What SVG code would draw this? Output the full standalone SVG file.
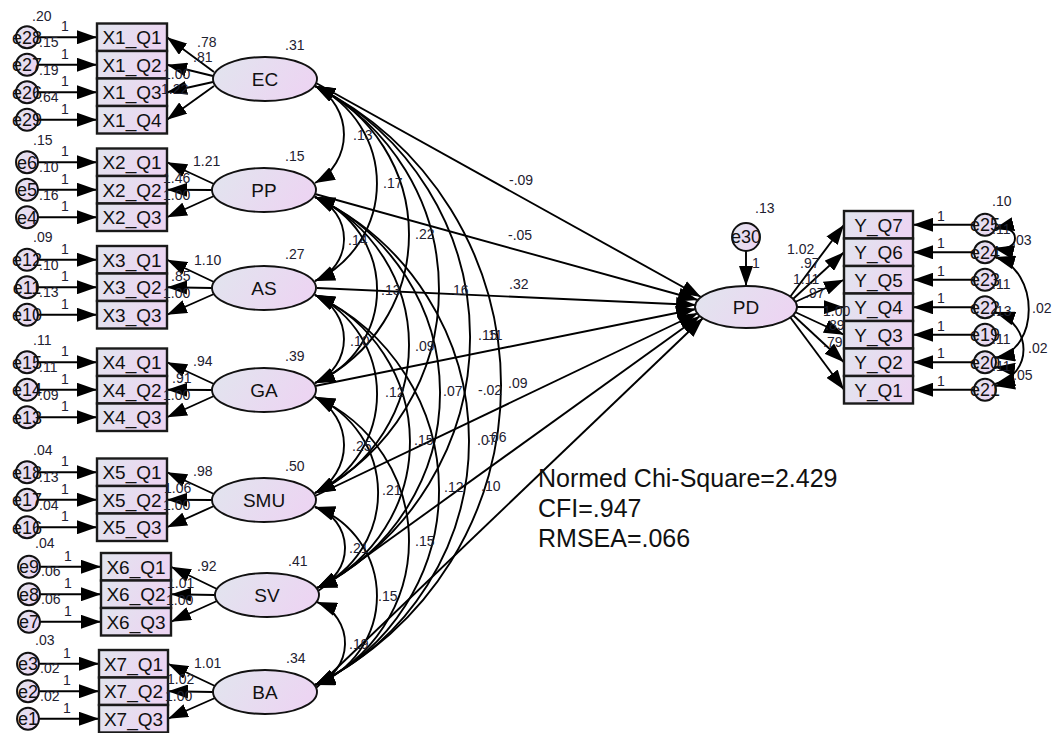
<svg xmlns="http://www.w3.org/2000/svg" width="1057" height="733" viewBox="0 0 1057 733">
  <defs>
    <linearGradient id="fillg" x1="0" y1="0" x2="1" y2="0.3">
      <stop offset="0" stop-color="#e1e5ee"/>
      <stop offset="1" stop-color="#ecd5f2"/>
    </linearGradient>
    <marker id="ah" markerUnits="userSpaceOnUse" viewBox="0 0 20 14" markerWidth="20" markerHeight="14" refX="20" refY="7" orient="auto-start-reverse">
      <path d="M0,0 L20,7 L0,14 z" fill="#000"/>
    </marker>
    <style>
      .box { fill: url(#fillg); stroke: #1a1a1a; stroke-width: 2.4; }
      .lat { fill: url(#fillg); stroke: #111; stroke-width: 1.9; }
      .err { fill: url(#fillg); stroke: #111; stroke-width: 1.9; }
      .ln { stroke: #000; stroke-width: 1.9; fill: none; marker-end: url(#ah); }
      .cv { stroke: #000; stroke-width: 1.9; fill: none; marker-start: url(#ah); marker-end: url(#ah); }
      text { font-family: "Liberation Sans", Arial, sans-serif; }
      .tb { font-size: 19px; text-anchor: middle; fill: #111; }
      .tl { font-size: 19px; text-anchor: middle; fill: #111; }
      .te { font-size: 18px; text-anchor: middle; fill: #111; }
      .n { font-size: 14px; fill: #1e2130; }
      .fit { font-size: 25px; fill: #111; }
    </style>
  </defs>
  <rect width="1057" height="733" fill="#fff"/>

  <!-- connectors -->
  <g id="connectors">
    <!-- error terms into the X indicators -->
    <path class="ln" d="M38 37.25 L97 37.25"/>
    <path class="ln" d="M38 64.75 L97 64.75"/>
    <path class="ln" d="M38 92.25 L97 92.25"/>
    <path class="ln" d="M38 119.75 L97 119.75"/>
    <path class="ln" d="M38 162.25 L97 162.25"/>
    <path class="ln" d="M38 189.75 L97 189.75"/>
    <path class="ln" d="M38 217.25 L97 217.25"/>
    <path class="ln" d="M38 259.75 L97 259.75"/>
    <path class="ln" d="M38 287.25 L97 287.25"/>
    <path class="ln" d="M38 314.75 L97 314.75"/>
    <path class="ln" d="M38 362.25 L97 362.25"/>
    <path class="ln" d="M38 389.75 L97 389.75"/>
    <path class="ln" d="M38 417.25 L97 417.25"/>
    <path class="ln" d="M38 472.25 L97 472.25"/>
    <path class="ln" d="M38 499.75 L97 499.75"/>
    <path class="ln" d="M38 527.25 L97 527.25"/>
    <path class="ln" d="M40 566.75 L101 566.75"/>
    <path class="ln" d="M40 594.25 L101 594.25"/>
    <path class="ln" d="M40 621.75 L101 621.75"/>
    <path class="ln" d="M39 663.75 L99 663.75"/>
    <path class="ln" d="M39 691.25 L99 691.25"/>
    <path class="ln" d="M39 718.75 L99 718.75"/>

    <!-- factor loadings -->
    <path class="ln" d="M214 72 L167 37.25"/>
    <path class="ln" d="M213 76 L167 64.75"/>
    <path class="ln" d="M213 82 L167 92.25"/>
    <path class="ln" d="M214 86 L167 119.75"/>
    <path class="ln" d="M214 184 L167 162.25"/>
    <path class="ln" d="M212 190 L167 189.75"/>
    <path class="ln" d="M214 196 L167 217.25"/>
    <path class="ln" d="M214 282 L167 259.75"/>
    <path class="ln" d="M212 288 L167 287.25"/>
    <path class="ln" d="M214 294 L167 314.75"/>
    <path class="ln" d="M214 384 L167 362.25"/>
    <path class="ln" d="M212 390 L167 389.75"/>
    <path class="ln" d="M214 396 L167 417.25"/>
    <path class="ln" d="M214 494 L167 472.25"/>
    <path class="ln" d="M212 500 L167 499.75"/>
    <path class="ln" d="M214 506 L167 527.25"/>
    <path class="ln" d="M217 589 L171 566.75"/>
    <path class="ln" d="M215 595 L171 594.25"/>
    <path class="ln" d="M217 601 L171 621.75"/>
    <path class="ln" d="M215 686 L168 663.75"/>
    <path class="ln" d="M213 692 L168 691.25"/>
    <path class="ln" d="M215 698 L168 718.75"/>

    <!-- covariances between the exogenous factors -->
    <path class="cv" d="M315 86 A55.1 55.1 0 0 1 315 183"/>
    <path class="cv" d="M315 197 A44.9 44.9 0 0 1 315 281"/>
    <path class="cv" d="M315 295 A47.9 47.9 0 0 1 315 383"/>
    <path class="cv" d="M315 397 A54.2 54.2 0 0 1 315 493"/>
    <path class="cv" d="M315 507 A42.8 42.8 0 0 1 317 588"/>
    <path class="cv" d="M317 602 A44.2 44.2 0 0 1 315 685"/>
    <path class="cv" d="M315 86 A107.7 107.7 0 0 1 315 281"/>
    <path class="cv" d="M315 197 A100.7 100.7 0 0 1 315 383"/>
    <path class="cv" d="M315 295 A110 110 0 0 1 315 493"/>
    <path class="cv" d="M315 397 A104.5 104.5 0 0 1 317 588"/>
    <path class="cv" d="M315 507 A94.9 94.9 0 0 1 315 685"/>
    <path class="cv" d="M315 86 A164.3 164.3 0 0 1 315 383"/>
    <path class="cv" d="M315 197 A163.5 163.5 0 0 1 315 493"/>
    <path class="cv" d="M315 295 A161.2 161.2 0 0 1 317 588"/>
    <path class="cv" d="M315 397 A157.3 157.3 0 0 1 315 685"/>
    <path class="cv" d="M315 86 A229 229 0 0 1 315 493"/>
    <path class="cv" d="M315 197 A216.1 216.1 0 0 1 317 588"/>
    <path class="cv" d="M315 295 A215.3 215.3 0 0 1 315 685"/>
    <path class="cv" d="M315 86 A281.5 281.5 0 0 1 317 588"/>
    <path class="cv" d="M315 197 A270.3 270.3 0 0 1 315 685"/>
    <path class="cv" d="M315 86 A334.1 334.1 0 0 1 315 685"/>

    <!-- structural paths into PD -->
    <path class="ln" d="M316 83 L701 297"/>
    <path class="ln" d="M315 194 L698 300"/>
    <path class="ln" d="M317 288 L696 305"/>
    <path class="ln" d="M315 386 L696 309"/>
    <path class="ln" d="M315 496 L698 313"/>
    <path class="ln" d="M318 591 L700 316"/>
    <path class="ln" d="M316 688 L703 318"/>

    <!-- disturbance and PD loadings -->
    <path class="ln" d="M746 251 L746 286"/>
    <path class="ln" d="M790 297 L844 224.75"/>
    <path class="ln" d="M793 299 L844 252.25"/>
    <path class="ln" d="M795 302 L844 279.75"/>
    <path class="ln" d="M797 307 L844 307.25"/>
    <path class="ln" d="M795 312 L844 334.75"/>
    <path class="ln" d="M793 315 L844 362.25"/>
    <path class="ln" d="M790 317 L844 389.75"/>

    <!-- error terms into the Y indicators -->
    <path class="ln" d="M974 224.75 L913 224.75"/>
    <path class="ln" d="M974 252.25 L913 252.25"/>
    <path class="ln" d="M974 279.75 L913 279.75"/>
    <path class="ln" d="M974 307.25 L913 307.25"/>
    <path class="ln" d="M974 334.75 L913 334.75"/>
    <path class="ln" d="M974 362.25 L913 362.25"/>
    <path class="ln" d="M974 389.75 L913 389.75"/>

    <!-- error covariances on the Y side -->
    <path class="cv" d="M994 229 C1022 222, 1022 254, 994 248"/>
    <path class="cv" d="M995 257 C1040 270, 1040 350, 995 358"/>
    <path class="cv" d="M995 312 C1033 325, 1033 375, 995 384"/>
    <path class="cv" d="M995 367 C1018 370, 1018 382, 995 386"/>
  </g>

  <!-- EC block -->
  <g id="EC"><ellipse class="lat" cx="265" cy="79" rx="52" ry="22"/><text class="tl" x="265" y="86">EC</text></g>
  <g id="X1_Q1"><rect class="box" x="97" y="23.5" width="70" height="27.5"/><text class="tb" x="132" y="44">X1_Q1</text></g>
  <g id="X1_Q2"><rect class="box" x="97" y="51" width="70" height="27.5"/><text class="tb" x="132" y="71.5">X1_Q2</text></g>
  <g id="X1_Q3"><rect class="box" x="97" y="78.5" width="70" height="27.5"/><text class="tb" x="132" y="99">X1_Q3</text></g>
  <g id="X1_Q4"><rect class="box" x="97" y="106" width="70" height="27.5"/><text class="tb" x="132" y="126.5">X1_Q4</text></g>
  <g id="e28"><circle class="err" cx="27" cy="37.25" r="11"/><text class="te" x="27" y="43.5">e28</text></g>
  <g id="e27"><circle class="err" cx="27" cy="64.75" r="11"/><text class="te" x="27" y="71">e27</text></g>
  <g id="e26"><circle class="err" cx="27" cy="92.25" r="11"/><text class="te" x="27" y="98.5">e26</text></g>
  <g id="e29"><circle class="err" cx="27" cy="119.75" r="11"/><text class="te" x="27" y="126">e29</text></g>

  <!-- PP block -->
  <g id="PP"><ellipse class="lat" cx="264" cy="190" rx="52" ry="22"/><text class="tl" x="264" y="197">PP</text></g>
  <g id="X2_Q1"><rect class="box" x="97" y="148.5" width="70" height="27.5"/><text class="tb" x="132" y="169">X2_Q1</text></g>
  <g id="X2_Q2"><rect class="box" x="97" y="176" width="70" height="27.5"/><text class="tb" x="132" y="196.5">X2_Q2</text></g>
  <g id="X2_Q3"><rect class="box" x="97" y="203.5" width="70" height="27.5"/><text class="tb" x="132" y="224">X2_Q3</text></g>
  <g id="e6"><circle class="err" cx="27" cy="162.25" r="11"/><text class="te" x="27" y="168.5">e6</text></g>
  <g id="e5"><circle class="err" cx="27" cy="189.75" r="11"/><text class="te" x="27" y="196">e5</text></g>
  <g id="e4"><circle class="err" cx="27" cy="217.25" r="11"/><text class="te" x="27" y="223.5">e4</text></g>

  <!-- AS block -->
  <g id="AS"><ellipse class="lat" cx="264" cy="288" rx="52" ry="22"/><text class="tl" x="264" y="295">AS</text></g>
  <g id="X3_Q1"><rect class="box" x="97" y="246" width="70" height="27.5"/><text class="tb" x="132" y="266.5">X3_Q1</text></g>
  <g id="X3_Q2"><rect class="box" x="97" y="273.5" width="70" height="27.5"/><text class="tb" x="132" y="294">X3_Q2</text></g>
  <g id="X3_Q3"><rect class="box" x="97" y="301" width="70" height="27.5"/><text class="tb" x="132" y="321.5">X3_Q3</text></g>
  <g id="e12"><circle class="err" cx="27" cy="259.75" r="11"/><text class="te" x="27" y="266">e12</text></g>
  <g id="e11"><circle class="err" cx="27" cy="287.25" r="11"/><text class="te" x="27" y="293.5">e11</text></g>
  <g id="e10"><circle class="err" cx="27" cy="314.75" r="11"/><text class="te" x="27" y="321">e10</text></g>

  <!-- GA block -->
  <g id="GA"><ellipse class="lat" cx="264" cy="390" rx="52" ry="22"/><text class="tl" x="264" y="397">GA</text></g>
  <g id="X4_Q1"><rect class="box" x="97" y="348.5" width="70" height="27.5"/><text class="tb" x="132" y="369">X4_Q1</text></g>
  <g id="X4_Q2"><rect class="box" x="97" y="376" width="70" height="27.5"/><text class="tb" x="132" y="396.5">X4_Q2</text></g>
  <g id="X4_Q3"><rect class="box" x="97" y="403.5" width="70" height="27.5"/><text class="tb" x="132" y="424">X4_Q3</text></g>
  <g id="e15"><circle class="err" cx="27" cy="362.25" r="11"/><text class="te" x="27" y="368.5">e15</text></g>
  <g id="e14"><circle class="err" cx="27" cy="389.75" r="11"/><text class="te" x="27" y="396">e14</text></g>
  <g id="e13"><circle class="err" cx="27" cy="417.25" r="11"/><text class="te" x="27" y="423.5">e13</text></g>

  <!-- SMU block -->
  <g id="SMU"><ellipse class="lat" cx="264" cy="500" rx="52" ry="22"/><text class="tl" x="264" y="507">SMU</text></g>
  <g id="X5_Q1"><rect class="box" x="97" y="458.5" width="70" height="27.5"/><text class="tb" x="132" y="479">X5_Q1</text></g>
  <g id="X5_Q2"><rect class="box" x="97" y="486" width="70" height="27.5"/><text class="tb" x="132" y="506.5">X5_Q2</text></g>
  <g id="X5_Q3"><rect class="box" x="97" y="513.5" width="70" height="27.5"/><text class="tb" x="132" y="534">X5_Q3</text></g>
  <g id="e18"><circle class="err" cx="27" cy="472.25" r="11"/><text class="te" x="27" y="478.5">e18</text></g>
  <g id="e17"><circle class="err" cx="27" cy="499.75" r="11"/><text class="te" x="27" y="506">e17</text></g>
  <g id="e16"><circle class="err" cx="27" cy="527.25" r="11"/><text class="te" x="27" y="533.5">e16</text></g>

  <!-- SV block -->
  <g id="SV"><ellipse class="lat" cx="267" cy="595" rx="52" ry="22"/><text class="tl" x="267" y="602">SV</text></g>
  <g id="X6_Q1"><rect class="box" x="101" y="553" width="70" height="27.5"/><text class="tb" x="136" y="573.5">X6_Q1</text></g>
  <g id="X6_Q2"><rect class="box" x="101" y="580.5" width="70" height="27.5"/><text class="tb" x="136" y="601">X6_Q2</text></g>
  <g id="X6_Q3"><rect class="box" x="101" y="608" width="70" height="27.5"/><text class="tb" x="136" y="628.5">X6_Q3</text></g>
  <g id="e9"><circle class="err" cx="29" cy="566.75" r="11"/><text class="te" x="29" y="573">e9</text></g>
  <g id="e8"><circle class="err" cx="29" cy="594.25" r="11"/><text class="te" x="29" y="600.5">e8</text></g>
  <g id="e7"><circle class="err" cx="29" cy="621.75" r="11"/><text class="te" x="29" y="628">e7</text></g>

  <!-- BA block -->
  <g id="BA"><ellipse class="lat" cx="265" cy="692" rx="52" ry="22"/><text class="tl" x="265" y="699">BA</text></g>
  <g id="X7_Q1"><rect class="box" x="99" y="650" width="69" height="27.5"/><text class="tb" x="133.5" y="670.5">X7_Q1</text></g>
  <g id="X7_Q2"><rect class="box" x="99" y="677.5" width="69" height="27.5"/><text class="tb" x="133.5" y="698">X7_Q2</text></g>
  <g id="X7_Q3"><rect class="box" x="99" y="705" width="69" height="27.5"/><text class="tb" x="133.5" y="725.5">X7_Q3</text></g>
  <g id="e3"><circle class="err" cx="28" cy="663.75" r="11"/><text class="te" x="28" y="670">e3</text></g>
  <g id="e2"><circle class="err" cx="28" cy="691.25" r="11"/><text class="te" x="28" y="697.5">e2</text></g>
  <g id="e1"><circle class="err" cx="28" cy="718.75" r="11"/><text class="te" x="28" y="725">e1</text></g>

  <!-- PD block -->
  <g id="PD"><ellipse class="lat" cx="746" cy="307" rx="51" ry="21"/><text class="tl" x="746" y="314">PD</text></g>
  <g id="e30"><circle class="err" cx="746" cy="237" r="14"/><text class="te" x="746" y="243">e30</text></g>
  <g id="Y_Q7"><rect class="box" x="844" y="211" width="69" height="27.5"/><text class="tb" x="878.5" y="231.5">Y_Q7</text></g>
  <g id="Y_Q6"><rect class="box" x="844" y="238.5" width="69" height="27.5"/><text class="tb" x="878.5" y="259">Y_Q6</text></g>
  <g id="Y_Q5"><rect class="box" x="844" y="266" width="69" height="27.5"/><text class="tb" x="878.5" y="286.5">Y_Q5</text></g>
  <g id="Y_Q4"><rect class="box" x="844" y="293.5" width="69" height="27.5"/><text class="tb" x="878.5" y="314">Y_Q4</text></g>
  <g id="Y_Q3"><rect class="box" x="844" y="321" width="69" height="27.5"/><text class="tb" x="878.5" y="341.5">Y_Q3</text></g>
  <g id="Y_Q2"><rect class="box" x="844" y="348.5" width="69" height="27.5"/><text class="tb" x="878.5" y="369">Y_Q2</text></g>
  <g id="Y_Q1"><rect class="box" x="844" y="376" width="69" height="27.5"/><text class="tb" x="878.5" y="396.5">Y_Q1</text></g>
  <g id="e25"><circle class="err" cx="985" cy="224.75" r="11"/><text class="te" x="985" y="231">e25</text></g>
  <g id="e24"><circle class="err" cx="985" cy="252.25" r="11"/><text class="te" x="985" y="258.5">e24</text></g>
  <g id="e23"><circle class="err" cx="985" cy="279.75" r="11"/><text class="te" x="985" y="286">e23</text></g>
  <g id="e22"><circle class="err" cx="985" cy="307.25" r="11"/><text class="te" x="985" y="313.5">e22</text></g>
  <g id="e19"><circle class="err" cx="985" cy="334.75" r="11"/><text class="te" x="985" y="341">e19</text></g>
  <g id="e20"><circle class="err" cx="985" cy="362.25" r="11"/><text class="te" x="985" y="368.5">e20</text></g>
  <g id="e21"><circle class="err" cx="985" cy="389.75" r="11"/><text class="te" x="985" y="396">e21</text></g>

  <!-- estimates -->
  <g id="estimates" class="n">
    <!-- fixed error weights -->
    <text class="n" x="61" y="31">1</text><text class="n" x="61" y="59">1</text><text class="n" x="61" y="86">1</text><text class="n" x="61" y="114">1</text>
    <text class="n" x="61" y="156">1</text><text class="n" x="61" y="184">1</text><text class="n" x="61" y="211">1</text>
    <text class="n" x="61" y="254">1</text><text class="n" x="61" y="281">1</text><text class="n" x="61" y="309">1</text>
    <text class="n" x="61" y="356">1</text><text class="n" x="61" y="384">1</text><text class="n" x="61" y="411">1</text>
    <text class="n" x="61" y="466">1</text><text class="n" x="61" y="494">1</text><text class="n" x="61" y="521">1</text>
    <text class="n" x="64" y="561">1</text><text class="n" x="64" y="588">1</text><text class="n" x="64" y="616">1</text>
    <text class="n" x="63" y="658">1</text><text class="n" x="63" y="685">1</text><text class="n" x="63" y="713">1</text>

    <!-- error variances, X side -->
    <text class="n" x="32" y="21">.20</text><text class="n" x="39" y="47">.15</text><text class="n" x="39" y="75">.19</text><text class="n" x="39" y="102">.64</text>
    <text class="n" x="33" y="145">.15</text><text class="n" x="39" y="172">.10</text><text class="n" x="39" y="200">.16</text>
    <text class="n" x="33" y="242">.09</text><text class="n" x="39" y="270">.10</text><text class="n" x="39" y="297">.13</text>
    <text class="n" x="33" y="345">.11</text><text class="n" x="39" y="372">.11</text><text class="n" x="39" y="400">.09</text>
    <text class="n" x="33" y="455">.04</text><text class="n" x="39" y="482">.13</text><text class="n" x="39" y="510">.04</text>
    <text class="n" x="35" y="548">.04</text><text class="n" x="41" y="576">.06</text><text class="n" x="41" y="604">.06</text>
    <text class="n" x="35" y="645">.03</text><text class="n" x="40" y="673">.02</text><text class="n" x="40" y="701">.02</text>

    <!-- factor variances -->
    <text class="n" x="285" y="50">.31</text>
    <text class="n" x="285" y="161">.15</text>
    <text class="n" x="285" y="259">.27</text>
    <text class="n" x="285" y="361">.39</text>
    <text class="n" x="285" y="471">.50</text>
    <text class="n" x="288" y="566">.41</text>
    <text class="n" x="286" y="663">.34</text>

    <!-- loadings -->
    <text class="n" x="197" y="47">.78</text><text class="n" x="193" y="62">.81</text><text class="n" x="163" y="79">1.00</text><text class="n" x="161" y="94">1.22</text>
    <text class="n" x="193" y="166">1.21</text><text class="n" x="163" y="183">1.46</text><text class="n" x="163" y="200">1.00</text>
    <text class="n" x="194" y="265">1.10</text><text class="n" x="171" y="281">.85</text><text class="n" x="163" y="298">1.00</text>
    <text class="n" x="193" y="366">.94</text><text class="n" x="172" y="383">.91</text><text class="n" x="163" y="400">1.00</text>
    <text class="n" x="193" y="476">.98</text><text class="n" x="164" y="493">1.06</text><text class="n" x="163" y="510">1.00</text>
    <text class="n" x="197" y="571">.92</text><text class="n" x="167" y="588">1.01</text><text class="n" x="166" y="605">1.00</text>
    <text class="n" x="194" y="668">1.01</text><text class="n" x="167" y="684">1.02</text><text class="n" x="165" y="701">1.00</text>

    <!-- factor covariances -->
    <text class="n" x="353" y="140">.13</text>
    <text class="n" x="383" y="188">.17</text>
    <text class="n" x="415" y="239">.22</text>
    <text class="n" x="348" y="245">.14</text>
    <text class="n" x="381" y="295">.13</text>
    <text class="n" x="449" y="295">.16</text>
    <text class="n" x="350" y="346">.10</text>
    <text class="n" x="415" y="351">.09</text>
    <text class="n" x="478" y="340">.15</text>
    <text class="n" x="484" y="340">.11</text>
    <text class="n" x="385" y="397">.12</text>
    <text class="n" x="443" y="396">.07</text>
    <text class="n" x="352" y="451">.25</text>
    <text class="n" x="414" y="445">.15</text>
    <text class="n" x="477" y="445">.07</text>
    <text class="n" x="487" y="442">.06</text>
    <text class="n" x="382" y="495">.21</text>
    <text class="n" x="444" y="492">.12</text>
    <text class="n" x="349" y="553">.21</text>
    <text class="n" x="415" y="546">.15</text>
    <text class="n" x="378" y="601">.15</text>
    <text class="n" x="349" y="649">.19</text>

    <!-- structural weights -->
    <text class="n" x="509" y="185">-.09</text>
    <text class="n" x="508" y="240">-.05</text>
    <text class="n" x="509" y="289">.32</text>
    <text class="n" x="478" y="395">-.02</text>
    <text class="n" x="508" y="388">.09</text>
    <text class="n" x="481" y="491">.10</text>

    <!-- PD side -->
    <text class="n" x="755" y="213">.13</text>
    <text class="n" x="752" y="268">1</text>
    <text class="n" x="787" y="254">1.02</text>
    <text class="n" x="800" y="268">.97</text>
    <text class="n" x="793" y="284">1.11</text>
    <text class="n" x="805" y="298">.97</text>
    <text class="n" x="823" y="316">1.00</text>
    <text class="n" x="825" y="330">.89</text>
    <text class="n" x="823" y="347">.79</text>
    <text class="n" x="937" y="221">1</text><text class="n" x="937" y="248">1</text><text class="n" x="937" y="276">1</text><text class="n" x="937" y="303">1</text>
    <text class="n" x="937" y="331">1</text><text class="n" x="937" y="358">1</text><text class="n" x="937" y="386">1</text>
    <text class="n" x="992" y="206">.10</text>
    <text class="n" x="992" y="234">.11</text>
    <text class="n" x="992" y="289">.11</text>
    <text class="n" x="992" y="316">.13</text>
    <text class="n" x="992" y="344">.11</text>
    <text class="n" x="992" y="371">.11</text>
    <text class="n" x="1012" y="245">.03</text>
    <text class="n" x="1032" y="313">.02</text>
    <text class="n" x="1028" y="353">.02</text>
    <text class="n" x="1013" y="380">.05</text>
  </g>

  <!-- fit indices -->
  <g id="fit">
    <text class="fit" x="538" y="487">Normed Chi-Square=2.429</text>
    <text class="fit" x="538" y="517">CFI=.947</text>
    <text class="fit" x="538" y="547">RMSEA=.066</text>
  </g>
</svg>
